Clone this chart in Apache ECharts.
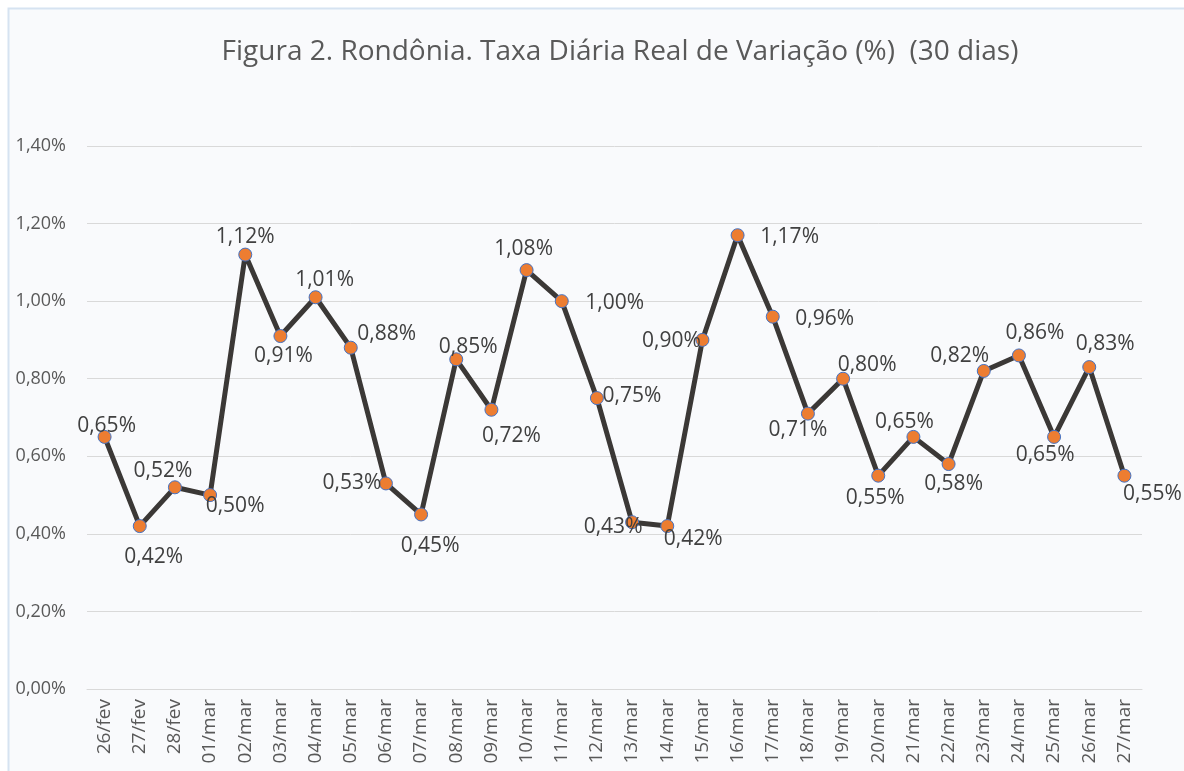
<!DOCTYPE html>
<html>
<head>
<meta charset="utf-8">
<script src="https://cdn.jsdelivr.net/npm/echarts@6/dist/echarts.min.js"></script>
<style>
html,body{margin:0;padding:0;background:#ffffff;}
#chart{width:1184px;height:771px;}
</style>
</head>
<body>
<div id="chart"></div>
<script>
const categories = ['26/fev','27/fev','28/fev','01/mar','02/mar','03/mar','04/mar','05/mar','06/mar','07/mar',
  '08/mar','09/mar','10/mar','11/mar','12/mar','13/mar','14/mar','15/mar','16/mar','17/mar',
  '18/mar','19/mar','20/mar','21/mar','22/mar','23/mar','24/mar','25/mar','26/mar','27/mar'];
const taxaValues = [0.65,0.42,0.52,0.50,1.12,0.91,1.01,0.88,0.53,0.45,
  0.85,0.72,1.08,1.00,0.75,0.43,0.42,0.90,1.17,0.96,
  0.71,0.80,0.55,0.65,0.58,0.82,0.86,0.65,0.83,0.55];
const yTicks = [0,0.2,0.4,0.6,0.8,1.0,1.2,1.4];
// label placement (offset from point centre, px)
const labelOffsets = [[2,-11],[14,31],[-12,-16],[25,11],[0,-18],[3,20],[9,-17],[36,-14],[-34,0],[9,32],
  [12,-12],[20,26],[-3,-21],[53,2],[35,-2],[-19,5],[26,13],[-31,1],[52,2],[52,2],
  [-10,16],[24,-14],[-3,22],[-9,-15],[5,20],[-24,-15],[16,-22],[-9,18],[16,-23],[28,18]];

const fmt = v => v.toFixed(2).replace('.', ',') + '%';
const FONT = '"Open Sans", "Noto Sans", sans-serif';

const chart = echarts.init(document.getElementById('chart'), null, {renderer:'canvas'});
chart.setOption({
  animation:false,
  backgroundColor:'#ffffff',
  graphic:[{type:'rect', z:-10, silent:true,
    shape:{x:8.5,y:8.5,width:1200,height:800},
    style:{fill:'#f9fafc', stroke:'#d6e3f1', lineWidth:2}}],
  title:{
    text:'Figura 2. Rondônia. Taxa Diária Real de Variação (%)  (30 dias)',
    left:615, top:33, textAlign:'center',
    textStyle:{fontFamily:FONT, fontSize:28, fontWeight:'normal', color:'#595959'}
  },
  grid:{left:87, right:42, top:146, bottom:82, containLabel:false},
  xAxis:{
    type:'category', data:categories, boundaryGap:true,
    axisLine:{show:true, lineStyle:{color:'#d9d9d9', width:1}},
    axisTick:{show:false},
    axisLabel:{rotate:90, interval:0, margin:10, fontFamily:FONT, fontSize:19, color:'#595959'}
  },
  yAxis:{
    type:'value', min:yTicks[0], max:yTicks[yTicks.length-1], interval:0.2,
    axisLine:{show:false}, axisTick:{show:false},
    axisLabel:{margin:21, fontFamily:FONT, fontSize:18, color:'#595959', formatter:fmt},
    splitLine:{lineStyle:{color:'#d9d9d9', width:1}}
  },
  series:[{
    type:'line',
    data:taxaValues.map((v,i)=>({value:v, label:{offset:labelOffsets[i]}})),
    lineStyle:{color:'#3b3836', width:5},
    symbol:'circle', symbolSize:13,
    itemStyle:{color:'#ed7d31', borderColor:'#4472c4', borderWidth:1},
    label:{show:true, position:'inside', fontFamily:FONT, fontSize:21, color:'#404040',
      formatter:p=>fmt(p.value)},
    z:3
  }]
});
</script>
</body>
</html>
